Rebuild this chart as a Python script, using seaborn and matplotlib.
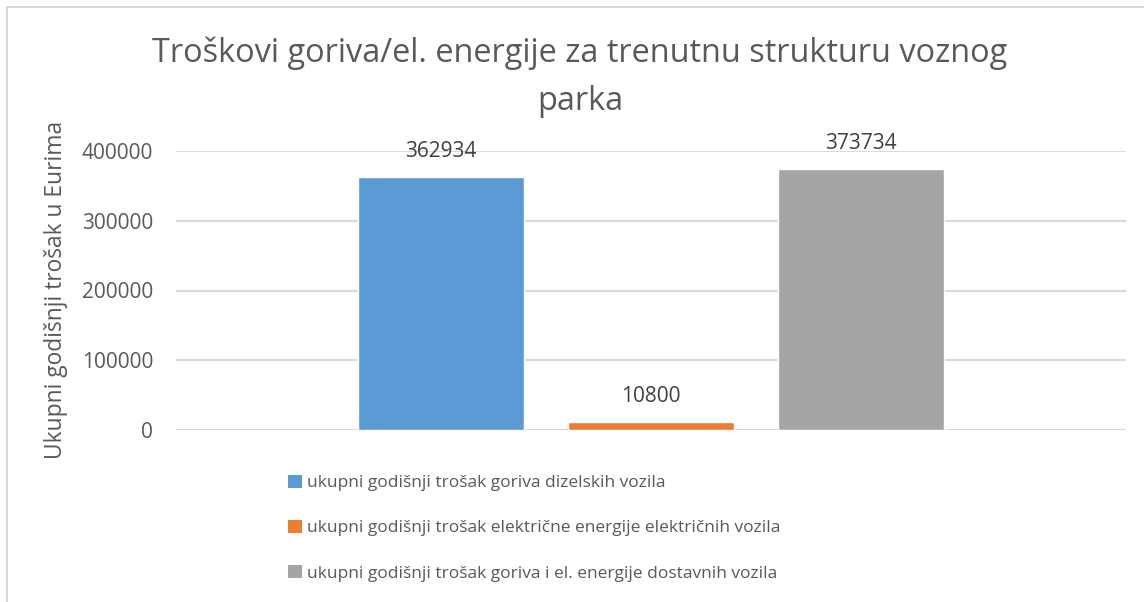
import pandas as pd
import numpy as np
import matplotlib
matplotlib.use("Agg")
import matplotlib.pyplot as plt
import seaborn as sns
from matplotlib.patches import Rectangle, Patch

# podaci
serije = [
    "ukupni godišnji trošak goriva dizelskih vozila",
    "ukupni godišnji trošak električne energije električnih vozila",
    "ukupni godišnji trošak goriva i el. energije dostavnih vozila",
]
troskovi = [362934, 10800, 373734]
boje = ["#5B9BD5", "#ED7D31", "#A5A5A5"]
y_ticks = [0, 100000, 200000, 300000, 400000]

df = pd.DataFrame({"serija": serije, "trosak": troskovi})

sns.set_style("white")
plt.rcParams["font.family"] = ["Open Sans", "DejaVu Sans"]

W, H = 1144, 602
fig = plt.figure(figsize=(W / 100, H / 100), dpi=100)

# plot area in pixels: x 176..1126, y 151..430
ax = fig.add_axes([176 / W, 1 - 430 / H, 950 / W, 279 / H])

sns.barplot(data=df, x="serija", y="trosak", hue="serija", palette=boje,
            width=166 / 210, dodge=False, legend=False, ax=ax, saturation=1)

ax.set_xlim(1 - 950 / 420, 1 + 950 / 420)
ax.set_ylim(0, 400000)
ax.set_yticks(y_ticks)
ax.set_yticklabels([str(v) for v in y_ticks], fontsize=15, color="#595959")
ax.tick_params(axis="y", length=0, pad=16.5)
ax.set_xticks([])
ax.set_xlabel("")
ax.set_ylabel("")
ax.grid(axis="y", color="#D9D9D9", linewidth=1.5)
ax.set_axisbelow(True)
for s in ax.spines.values():
    s.set_visible(False)

# oznake vrijednosti
for cont in ax.containers:
    ax.bar_label(cont, labels=[str(int(v)) for v in cont.datavalues],
                 padding=11, fontsize=15, color="#404040")

# naslov
fig.text(580 / W, 1 - 36 / H,
         "Troškovi goriva/el. energije za trenutnu strukturu voznog\nparka",
         ha="center", va="top", fontsize=23.4, color="#595959", linespacing=1.6)

# naziv osi y
fig.text(62 / W, 1 - 290 / H, "Ukupni godišnji trošak u Eurima",
         rotation=90, rotation_mode="anchor", ha="center", va="baseline",
         fontsize=16.4, color="#595959")

# legenda
handles = [Patch(facecolor=b, edgecolor="none") for b in boje]
fig.legend(handles, serije, loc="upper left",
           bbox_to_anchor=(272 / W, 1 - 459 / H), frameon=False,
           fontsize=12.5, labelcolor="#595959", handlelength=0.8,
           handleheight=0.8, handletextpad=0.3, labelspacing=1.64)

# okvir grafikona
fig.patches.append(Rectangle((7 / W, -0.1), 1.2, 1 - 7 / H + 0.1,
                             transform=fig.transFigure, fill=False,
                             edgecolor="#D9D9D9", linewidth=1.5))

fig.savefig("out.png", dpi=100)
